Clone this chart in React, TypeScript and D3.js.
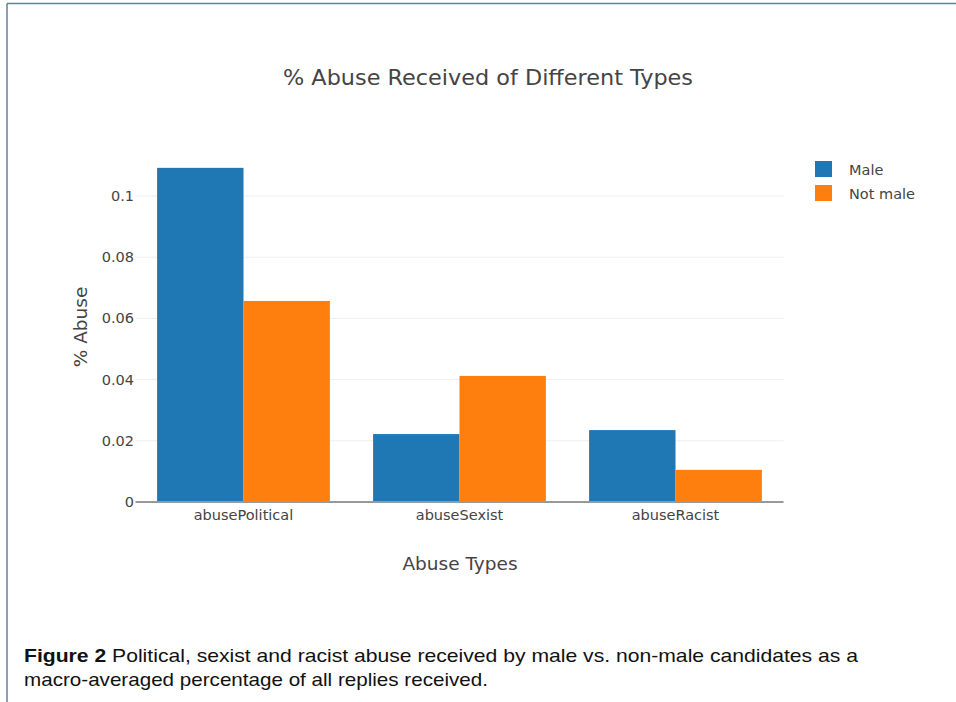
import React from "react";
import * as d3 from "d3";

const categories = ["abusePolitical", "abuseSexist", "abuseRacist"];
const seriesNames = ["Male", "Not male"];
const maleValues = [0.1092, 0.0222, 0.0235];
const notMaleValues = [0.0657, 0.0412, 0.0105];
const yTicks = [0, 0.02, 0.04, 0.06, 0.08, 0.1];
const colors = ["#1f77b4", "#ff7f0e"];

const W = 956;
const H = 702;
const plot = { left: 135.5, right: 783.5, top: 160, bottom: 502 };
const FONT = "'DejaVu Sans', Verdana, sans-serif";
const CAP_FONT = "'Liberation Sans', 'DejaVu Sans', sans-serif";

export default function App() {
  const x0 = d3.scaleBand<string>().domain(categories).range([plot.left, plot.right]).paddingInner(0.2).paddingOuter(0.1);
  const x1 = d3.scaleBand<string>().domain(seriesNames).range([0, x0.bandwidth()]).padding(0);
  const y = d3.scaleLinear().domain([0, 0.1]).range([plot.bottom, 196]);
  const series = [maleValues, notMaleValues];
  const fmt = (v: number) => (v === 0 ? "0" : String(+v.toFixed(2)));

  return (
    <svg width={W} height={H} style={{ position: "absolute", left: 0, top: 0, background: "#fff" }}>
      <rect x={0} y={0} width={W} height={H} fill="#fff" />
      {/* frame */}
      <line x1={7} y1={3.5} x2={W} y2={3.5} stroke="#5f7f9f" strokeWidth={1.5} />
      <line x1={7} y1={3.5} x2={7} y2={H} stroke="#5f7f9f" strokeWidth={1.5} />

      {/* title */}
      <text x={488} y={85} textAnchor="middle" fontFamily={FONT} fontSize={22} fill="#444" textLength={410} lengthAdjust="spacingAndGlyphs">
        % Abuse Received of Different Types
      </text>

      {/* gridlines */}
      {yTicks.filter((t) => t !== 0).map((t) => (
        <line key={t} x1={plot.left} x2={plot.right} y1={y(t)} y2={y(t)} stroke="#eeeeee" strokeWidth={1} />
      ))}

      {/* bars */}
      {categories.map((c, i) => (
        <g key={c}>
          {series.map((vals, s) => (
            <rect
              key={s}
              x={(x0(c) ?? 0) + (x1(seriesNames[s]) ?? 0)}
              y={y(vals[i])}
              width={x1.bandwidth()}
              height={plot.bottom - y(vals[i])}
              fill={colors[s]}
            />
          ))}
        </g>
      ))}

      {/* x axis line */}
      <line x1={plot.left} x2={plot.right} y1={plot.bottom} y2={plot.bottom} stroke="#999" strokeWidth={2} />

      {/* y tick labels */}
      {yTicks.map((t) => (
        <text key={t} x={134} y={y(t) + 5} textAnchor="end" fontFamily={FONT} fontSize={14.5} fill="#444">
          {fmt(t)}
        </text>
      ))}

      {/* x tick labels */}
      {categories.map((c) => (
        <text key={c} x={(x0(c) ?? 0) + x0.bandwidth() / 2} y={520} textAnchor="middle" fontFamily={FONT} fontSize={14.5} fill="#444">
          {c}
        </text>
      ))}

      {/* axis titles */}
      <text x={460} y={570} textAnchor="middle" fontFamily={FONT} fontSize={18.5} fill="#444">
        Abuse Types
      </text>
      <text transform={`translate(87,327) rotate(-90)`} textAnchor="middle" fontFamily={FONT} fontSize={18.5} fill="#444">
        % Abuse
      </text>

      {/* legend */}
      {seriesNames.map((n, i) => (
        <g key={n} transform={`translate(815,${161 + i * 24})`}>
          <rect x={0} y={0} width={17} height={16} fill={colors[i]} />
          <text x={34} y={14} fontFamily={FONT} fontSize={14.5} fill="#444">
            {n}
          </text>
        </g>
      ))}

      {/* caption */}
      <text x={24} y={662} fontFamily={CAP_FONT} fontSize={19} fill="#111" textLength={834} lengthAdjust="spacingAndGlyphs">
        <tspan fontWeight="bold">Figure 2</tspan>
        <tspan> Political, sexist and racist abuse received by male vs. non-male candidates as a</tspan>
      </text>
      <text x={24} y={686} fontFamily={CAP_FONT} fontSize={19} fill="#111" textLength={464} lengthAdjust="spacingAndGlyphs">
        macro-averaged percentage of all replies received.
      </text>
    </svg>
  );
}
